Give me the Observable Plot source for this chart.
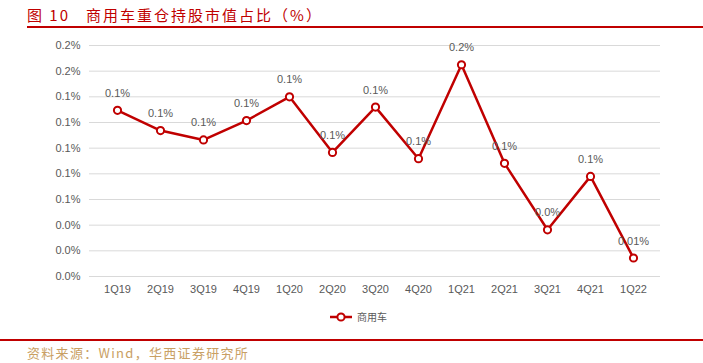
<!DOCTYPE html>
<html><head><meta charset="utf-8">
<script src="https://cdn.jsdelivr.net/npm/d3@7"></script>
<script src="https://cdn.jsdelivr.net/npm/@observablehq/plot@0.6"></script>
<style>
body{margin:0;background:#fff;width:703px;height:363px;overflow:hidden;font-family:"Liberation Sans","Noto Sans CJK SC",sans-serif;}
#title{position:relative;height:30px;}
#title span{position:absolute;left:27px;top:4px;font-size:15px;color:#c00000;font-family:"Noto Sans CJK SC",sans-serif;letter-spacing:2px;}
#title div{position:absolute;left:27px;right:0;top:26px;height:2px;background:#c00000;}
#legend{position:absolute;top:309px;left:0;width:703px;height:16px;}
#source{position:absolute;top:339px;left:0;width:703px;}
#source .line{height:2px;background:#c00000;}
#source span{position:absolute;left:27px;top:4px;font-size:13px;color:#c9a063;font-family:"Noto Sans CJK SC",sans-serif;letter-spacing:1.3px;}
</style></head>
<body>
<div id="title"><span>图 10&nbsp;&nbsp;&nbsp;商用车重仓持股市值占比（%）</span><div></div></div>
<div id="chart"></div>
<div id="legend"></div>
<div id="source"><div class="line"></div><span>资料来源：Wind，华西证券研究所</span></div>
<script>
const quarters = ["1Q19","2Q19","3Q19","4Q19","1Q20","2Q20","3Q20","4Q20","1Q21","2Q21","3Q21","4Q21","1Q22"];
const values = [0.1295,0.1137,0.1064,0.1215,0.140,0.0967,0.132,0.0918,0.165,0.0882,0.0364,0.078,0.0144];
const labels = ["0.1%","0.1%","0.1%","0.1%","0.1%","0.1%","0.1%","0.1%","0.2%","0.1%","0.0%","0.1%","0.01%"];
const yTicks = [0,0.02,0.04,0.06,0.08,0.10,0.12,0.14,0.16,0.18];
const seriesName = "商用车";

const data = quarters.map((q,i)=>({q, v: values[i], label: labels[i]}));
const red = "#c00000";

const chart = Plot.plot({
  width: 703, height: 270,
  marginTop: 15, marginBottom: 24, marginLeft: 89, marginRight: 43,
  style: {fontFamily: "Liberation Sans, Arial, sans-serif", fontSize: "11px", color: "#595959", background: "#fff"},
  x: {type: "point", domain: quarters, padding: 0.5, label: null, tickSize: 0, tickPadding: 9},
  y: {domain: [0, 0.18], ticks: yTicks, tickFormat: d => d.toFixed(1) + "%", label: null, tickSize: 0, tickPadding: 9},
  marks: [
    Plot.ruleY(yTicks, {stroke: "#d9d9d9", strokeWidth: 1}),
    Plot.line(data, {x: "q", y: "v", stroke: red, strokeWidth: 2.5}),
    Plot.dot(data, {x: "q", y: "v", r: 3.6, fill: "#fff", stroke: red, strokeWidth: 2}),
    Plot.text(data, {x: "q", y: "v", text: "label", dy: -17, fill: "#595959", fontSize: 11})
  ]
});
document.getElementById("chart").appendChild(chart);

document.getElementById("legend").innerHTML =
  `<svg width="703" height="16" style="display:block"><line x1="330" x2="352" y1="8" y2="8" stroke="${red}" stroke-width="2.5"/>` +
  `<circle cx="341" cy="8" r="3.6" fill="#fff" stroke="${red}" stroke-width="2"/>` +
  `<text x="357" y="12" font-size="10" fill="#595959" font-family="Noto Sans CJK SC">${seriesName}</text></svg>`;
</script>
</body></html>
